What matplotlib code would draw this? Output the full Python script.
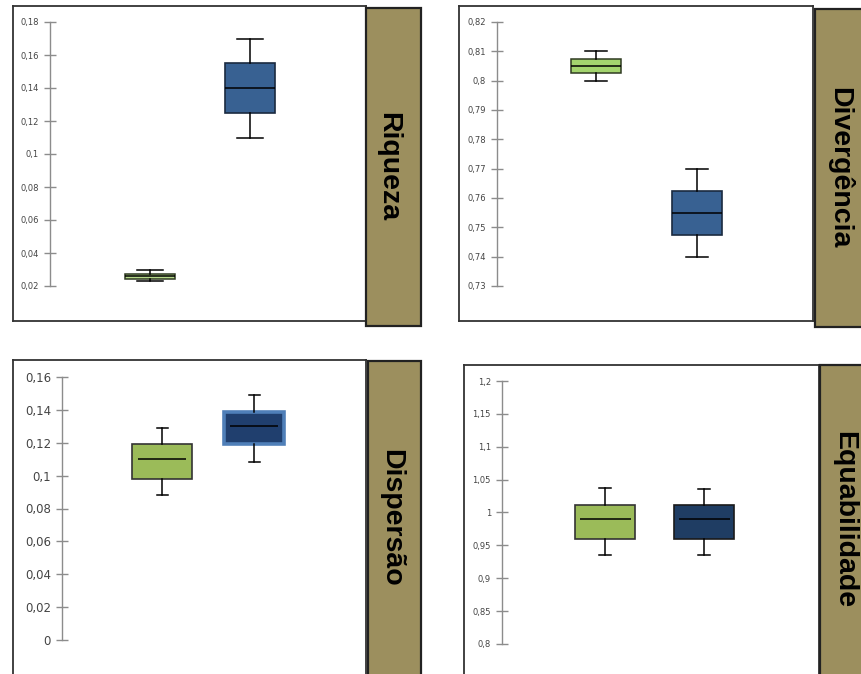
import matplotlib
matplotlib.use("Agg")
import matplotlib.pyplot as plt
from matplotlib.patches import Rectangle
from matplotlib.ticker import FuncFormatter

W, H = 861, 674

# ---- data ----
groups = ["Grupo 1", "Grupo 2"]

riqueza_whislo = [0.023, 0.110]
riqueza_q1 = [0.0245, 0.125]
riqueza_med = [0.026, 0.140]
riqueza_q3 = [0.0275, 0.155]
riqueza_whishi = [0.030, 0.170]
riqueza_ticks = [0.02, 0.04, 0.06, 0.08, 0.10, 0.12, 0.14, 0.16, 0.18]

diverg_whislo = [0.800, 0.740]
diverg_q1 = [0.8025, 0.7475]
diverg_med = [0.805, 0.755]
diverg_q3 = [0.8075, 0.7625]
diverg_whishi = [0.810, 0.770]
diverg_ticks = [0.73, 0.74, 0.75, 0.76, 0.77, 0.78, 0.79, 0.80, 0.81, 0.82]

disp_whislo = [0.088, 0.108]
disp_q1 = [0.098, 0.119]
disp_med = [0.110, 0.130]
disp_q3 = [0.119, 0.139]
disp_whishi = [0.129, 0.149]
disp_ticks = [0.0, 0.02, 0.04, 0.06, 0.08, 0.10, 0.12, 0.14, 0.16]

equab_whislo = [0.935, 0.935]
equab_q1 = [0.960, 0.960]
equab_med = [0.990, 0.990]
equab_q3 = [1.012, 1.012]
equab_whishi = [1.038, 1.036]
equab_ticks = [0.80, 0.85, 0.90, 0.95, 1.00, 1.05, 1.10, 1.15, 1.20]

titles = ["Riqueza", "Divergência", "Dispersão", "Equabilidade"]

TAN = "#9c8f5e"

fig = plt.figure(figsize=(W / 100, H / 100), dpi=100)
fig.patch.set_facecolor("white")


def px_axes(x0, y0, x1, y1, **kw):
    return fig.add_axes([x0 / W, 1 - y1 / H, (x1 - x0) / W, (y1 - y0) / H], **kw)


def comma_fmt(v, pos):
    s = "{:g}".format(round(v, 4))
    return s.replace(".", ",")


def panel(frame, strip, spine_x, tick_px, centers, box_px, cap_px,
          whislo, q1, med, q3, whishi, ticks, title, title_x,
          colors, edgecolors, edge_lw, med_frac, tick_fs):
    # frame
    fa = px_axes(*frame)
    fa.set_xticks([]); fa.set_yticks([])
    for s in fa.spines.values():
        s.set_color("#333333"); s.set_linewidth(1.3)
    fa.set_zorder(0)
    # strip with title
    sx0, sy0, sx1, sy1 = strip
    fig.patches.append(Rectangle((sx0 / W, 1 - sy1 / H), (sx1 - sx0) / W, (sy1 - sy0) / H,
                                 transform=fig.transFigure, facecolor=TAN,
                                 edgecolor="#222222", linewidth=1.6, zorder=1))
    fig.text(title_x / W, 1 - ((sy0 + min(sy1, H)) / 2) / H, title, rotation=-90,
             ha="center", va="center", fontsize=20.5, fontweight="bold",
             family=["Liberation Sans", "DejaVu Sans"], color="black", zorder=2)
    # plot axes
    c1, c2 = centers
    scale = c2 - c1
    right = frame[2]
    ax = px_axes(spine_x, tick_px[0], right - 2, tick_px[1])
    ax.patch.set_alpha(0)
    ax.set_zorder(3)
    ax.set_xlim(1 - (c1 - spine_x) / scale, 2 + (right - 2 - c2) / scale)
    ax.set_ylim(min(ticks), max(ticks))
    stats = []
    for i in range(len(groups)):
        stats.append(dict(label=groups[i], whislo=whislo[i], q1=q1[i], med=med[i],
                          q3=q3[i], whishi=whishi[i], fliers=[]))
    bp = ax.bxp(stats, positions=[1, 2], widths=box_px / scale, capwidths=cap_px / scale,
                patch_artist=True, showfliers=False,
                boxprops=dict(linewidth=1.2),
                whiskerprops=dict(color="black", linewidth=1.1),
                capprops=dict(color="black", linewidth=1.1),
                medianprops=dict(color="black", linewidth=1.1))
    for b, fc, ec, lw in zip(bp["boxes"], colors, edgecolors, edge_lw):
        b.set_facecolor(fc); b.set_edgecolor(ec); b.set_linewidth(lw)
    for m in bp["medians"]:
        xd = m.get_xdata()
        c = (xd[0] + xd[1]) / 2
        h = (xd[1] - xd[0]) / 2 * med_frac
        m.set_xdata([c - h, c + h])
        m.set_zorder(4)
    for s in ["top", "right", "bottom"]:
        ax.spines[s].set_visible(False)
    ax.spines["left"].set_color("#8c8c8c")
    ax.spines["left"].set_linewidth(1.0)
    ax.set_xticks([])
    ax.set_yticks(ticks)
    ax.yaxis.set_major_formatter(FuncFormatter(comma_fmt))
    ax.tick_params(axis="y", direction="inout", length=8, width=1.0, color="#8c8c8c",
                   labelsize=tick_fs, labelcolor="#444444", pad=4)
    return ax


GREEN = "#9bbb59"
panel(frame=(13, 6, 366, 321), strip=(366, 8, 421, 326), spine_x=50, tick_px=(22, 286),
      centers=(150, 250), box_px=50, cap_px=26,
      whislo=riqueza_whislo, q1=riqueza_q1, med=riqueza_med, q3=riqueza_q3,
      whishi=riqueza_whishi, ticks=riqueza_ticks, title=titles[0], title_x=388,
      colors=["#b5d98a", "#386192"], edgecolors=["#2f3b22", "#1a2a40"], edge_lw=[1.1, 1.2],
      med_frac=1.0, tick_fs=6)

panel(frame=(459, 6, 813, 321), strip=(815, 9, 875, 327), spine_x=497, tick_px=(22, 286),
      centers=(596, 697), box_px=50, cap_px=22,
      whislo=diverg_whislo, q1=diverg_q1, med=diverg_med, q3=diverg_q3,
      whishi=diverg_whishi, ticks=diverg_ticks, title=titles[1], title_x=840,
      colors=["#a3d46e", "#386192"], edgecolors=["#2f3b22", "#1a2a40"], edge_lw=[1.1, 1.2],
      med_frac=1.0, tick_fs=6)

panel(frame=(13, 360, 366, 700), strip=(368, 361, 421, 700), spine_x=62, tick_px=(377, 640),
      centers=(162, 254), box_px=60, cap_px=11,
      whislo=disp_whislo, q1=disp_q1, med=disp_med, q3=disp_q3,
      whishi=disp_whishi, ticks=disp_ticks, title=titles[2], title_x=391,
      colors=[GREEN, "#203f6e"], edgecolors=["#333333", "#4f7fb8"], edge_lw=[1.2, 2.6],
      med_frac=0.8, tick_fs=8.5)

panel(frame=(464, 365, 819, 700), strip=(820, 365, 880, 700), spine_x=502, tick_px=(381, 644),
      centers=(605, 704), box_px=60, cap_px=12,
      whislo=equab_whislo, q1=equab_q1, med=equab_med, q3=equab_q3,
      whishi=equab_whishi, ticks=equab_ticks, title=titles[3], title_x=844,
      colors=[GREEN, "#1f3d63"], edgecolors=["#333333", "#1a1a1a"], edge_lw=[1.2, 1.2],
      med_frac=0.85, tick_fs=6)

fig.savefig("out.png", dpi=100, facecolor="white")
